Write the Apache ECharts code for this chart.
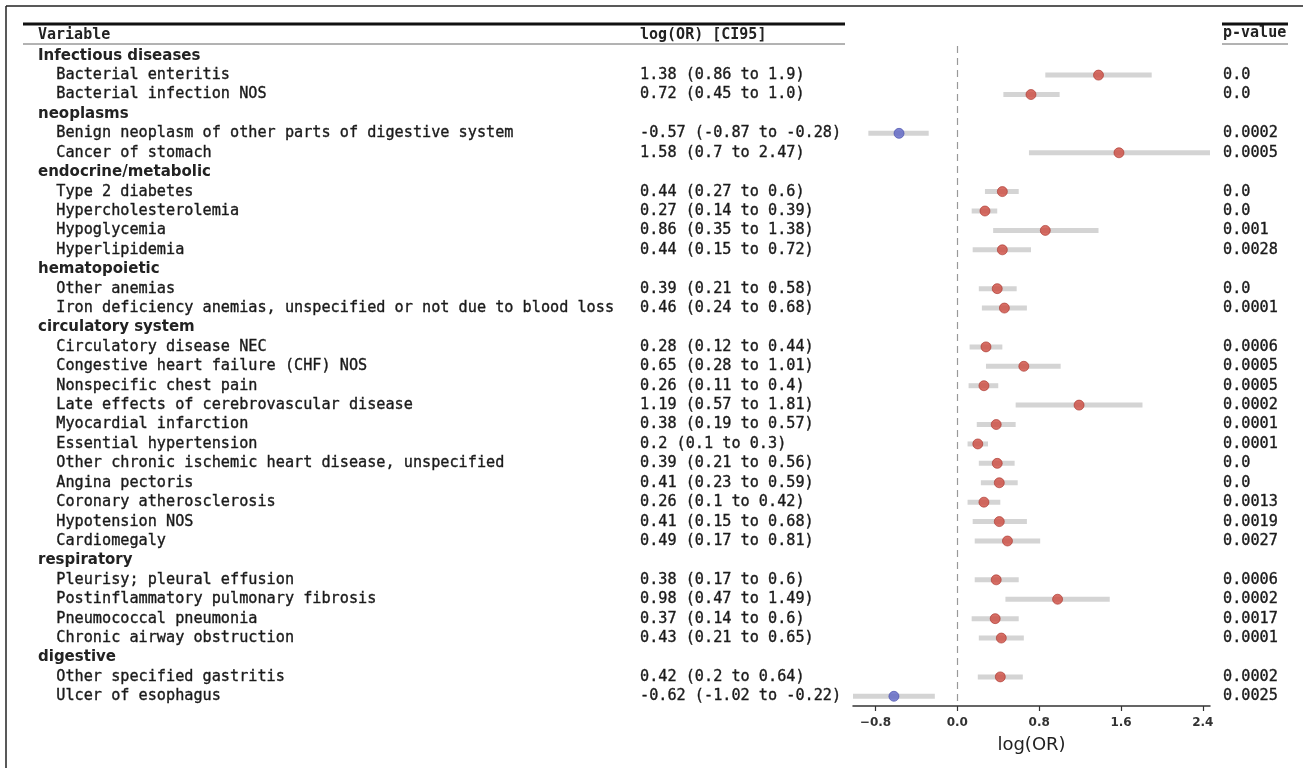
<!DOCTYPE html>
<html>
<head>
<meta charset="utf-8">
<script src="https://cdn.jsdelivr.net/npm/echarts@6/dist/echarts.min.js"></script>
<style>
  html, body { margin: 0; padding: 0; background: #fff; }
  #chart { width: 1303px; height: 768px; }
</style>
</head>
<body>
<div id="chart"></div>
<script>
// rows top to bottom; group rows carry no estimate
const labels = [
  'Infectious diseases', 'Bacterial enteritis', 'Bacterial infection NOS',
  'neoplasms', 'Benign neoplasm of other parts of digestive system', 'Cancer of stomach',
  'endocrine/metabolic', 'Type 2 diabetes', 'Hypercholesterolemia', 'Hypoglycemia', 'Hyperlipidemia',
  'hematopoietic', 'Other anemias', 'Iron deficiency anemias, unspecified or not due to blood loss',
  'circulatory system', 'Circulatory disease NEC', 'Congestive heart failure (CHF) NOS',
  'Nonspecific chest pain', 'Late effects of cerebrovascular disease', 'Myocardial infarction',
  'Essential hypertension', 'Other chronic ischemic heart disease, unspecified', 'Angina pectoris',
  'Coronary atherosclerosis', 'Hypotension NOS', 'Cardiomegaly',
  'respiratory', 'Pleurisy; pleural effusion', 'Postinflammatory pulmonary fibrosis',
  'Pneumococcal pneumonia', 'Chronic airway obstruction',
  'digestive', 'Other specified gastritis', 'Ulcer of esophagus'
];
const isGroup = [
  true, false, false,
  true, false, false,
  true, false, false, false, false,
  true, false, false,
  true, false, false, false, false, false, false, false, false, false, false, false,
  true, false, false, false, false,
  true, false, false
];
const estimate = [
  null, 1.38, 0.72,
  null, -0.57, 1.58,
  null, 0.44, 0.27, 0.86, 0.44,
  null, 0.39, 0.46,
  null, 0.28, 0.65, 0.26, 1.19, 0.38, 0.2, 0.39, 0.41, 0.26, 0.41, 0.49,
  null, 0.38, 0.98, 0.37, 0.43,
  null, 0.42, -0.62
];
const ciLow = [
  null, 0.86, 0.45,
  null, -0.87, 0.7,
  null, 0.27, 0.14, 0.35, 0.15,
  null, 0.21, 0.24,
  null, 0.12, 0.28, 0.11, 0.57, 0.19, 0.1, 0.21, 0.23, 0.1, 0.15, 0.17,
  null, 0.17, 0.47, 0.14, 0.21,
  null, 0.2, -1.02
];
const ciHigh = [
  null, 1.9, 1.0,
  null, -0.28, 2.47,
  null, 0.6, 0.39, 1.38, 0.72,
  null, 0.58, 0.68,
  null, 0.44, 1.01, 0.4, 1.81, 0.57, 0.3, 0.56, 0.59, 0.42, 0.68, 0.81,
  null, 0.6, 1.49, 0.6, 0.65,
  null, 0.64, -0.22
];
const pValues = [
  null, 0.0, 0.0,
  null, 0.0002, 0.0005,
  null, 0.0, 0.0, 0.001, 0.0028,
  null, 0.0, 0.0001,
  null, 0.0006, 0.0005, 0.0005, 0.0002, 0.0001, 0.0001, 0.0, 0.0, 0.0013, 0.0019, 0.0027,
  null, 0.0006, 0.0002, 0.0017, 0.0001,
  null, 0.0002, 0.0025
];
const xTicks = [-0.8, 0.0, 0.8, 1.6, 2.4];

const MONO = '"DejaVu Sans Mono", "Liberation Mono", monospace';
const SANS = '"DejaVu Sans", "Liberation Sans", sans-serif';

// python-ish number printing: 1.0 stays "1.0"
function fmt(v) {
  return Number.isInteger(v) ? v.toFixed(1) : String(v);
}

const chart = echarts.init(document.getElementById('chart'));

const ciData = [];
const pointData = [];
estimate.forEach((v, i) => {
  if (v === null) return;
  ciData.push([ciLow[i], ciHigh[i], i]);
  pointData.push({
    value: [v, i],
    itemStyle: v < 0
      ? { color: '#5c64c4', borderColor: '#454ca8', borderWidth: 0.8 }
      : { color: '#cd4a3f', borderColor: '#a8362d', borderWidth: 0.8 }
  });
});

const rowText = { fontFamily: MONO, fontSize: 15.2, color: '#1a1a1a', textBorderColor: '#1a1a1a', textBorderWidth: 0.35 };

const option = {
  animation: false,
  backgroundColor: '#fff',
  textStyle: { fontFamily: MONO },
  grid: { left: 853, right: 93, top: 46, bottom: 62, containLabel: false, outerBoundsMode: 'none' },
  xAxis: {
    type: 'value',
    min: -1.02,
    max: 2.47,
    name: 'log(OR)',
    nameLocation: 'middle',
    nameGap: 30,
    nameTextStyle: { fontFamily: SANS, fontSize: 18, color: '#222' },
    axisLine: { show: true, lineStyle: { color: '#333', width: 1.5 } },
    axisTick: { show: true, length: 5, lineStyle: { color: '#333', width: 1.2 }, customValues: xTicks },
    axisLabel: {
      customValues: xTicks,
      margin: 11,
      fontFamily: SANS,
      fontSize: 12,
      fontWeight: 'bold',
      color: '#333',
      formatter: v => (v < 0 ? '\u2212' : '') + Math.abs(v).toFixed(1)
    },
    splitLine: { show: false }
  },
  yAxis: [
    {
      type: 'category',
      data: labels,
      inverse: true,
      axisLine: { show: false },
      axisTick: { show: false },
      splitLine: { show: false },
      axisLabel: {
        interval: 0,
        align: 'left',
        margin: 815,
        formatter: (val, i) => isGroup[i]
          ? '{g|' + val + '}'
          : '{n|  ' + val + '}{c|' + fmt(estimate[i]) + ' (' + fmt(ciLow[i]) + ' to ' + fmt(ciHigh[i]) + ')}',
        rich: {
          g: { fontFamily: SANS, fontWeight: 'bold', fontSize: 15, color: '#222' },
          n: Object.assign({ width: 602 }, rowText),
          c: rowText
        }
      }
    },
    {
      type: 'category',
      data: labels,
      inverse: true,
      position: 'right',
      axisLine: { show: false },
      axisTick: { show: false },
      splitLine: { show: false },
      axisLabel: Object.assign({
        interval: 0,
        align: 'left',
        margin: 13,
        formatter: (val, i) => pValues[i] === null ? '' : fmt(pValues[i])
      }, rowText)
    }
  ],
  series: [
    {
      type: 'custom',
      yAxisIndex: 0,
      data: ciData,
      encode: { x: [0, 1], y: 2 },
      renderItem: (params, api) => {
        const a = api.coord([api.value(0), api.value(2)]);
        const b = api.coord([api.value(1), api.value(2)]);
        return {
          type: 'line',
          shape: { x1: a[0], y1: a[1], x2: b[0], y2: b[1] },
          style: { stroke: '#d4d4d4', lineWidth: 5 }
        };
      },
      z: 2
    },
    {
      type: 'scatter',
      yAxisIndex: 0,
      data: pointData,
      symbolSize: 10,
      markLine: {
        silent: true,
        symbol: 'none',
        label: { show: false },
        lineStyle: { color: '#999', type: [7, 5], width: 1.2 },
        data: [{ xAxis: 0 }]
      },
      z: 3
    }
  ],
  graphic: [
    // page frame
    { type: 'line', shape: { x1: 6, y1: 6, x2: 1303, y2: 6 }, style: { stroke: '#222', lineWidth: 1.5 } },
    { type: 'line', shape: { x1: 6, y1: 6, x2: 6, y2: 768 }, style: { stroke: '#222', lineWidth: 1.5 } },
    // table rules
    { type: 'line', shape: { x1: 23, y1: 24, x2: 845, y2: 24 }, style: { stroke: '#111', lineWidth: 3 } },
    { type: 'line', shape: { x1: 23, y1: 44, x2: 845, y2: 44 }, style: { stroke: '#666', lineWidth: 1 } },
    { type: 'line', shape: { x1: 1222, y1: 24, x2: 1288, y2: 24 }, style: { stroke: '#111', lineWidth: 3 } },
    { type: 'line', shape: { x1: 1222, y1: 44, x2: 1288, y2: 44 }, style: { stroke: '#666', lineWidth: 1 } },
    // column headers
    { type: 'text', left: 38, top: 28, style: { text: 'Variable', font: 'bold 15px ' + MONO, fill: '#222' } },
    { type: 'text', left: 640, top: 28, style: { text: 'log(OR) [CI95]', font: 'bold 15px ' + MONO, fill: '#222' } },
    { type: 'text', left: 1223, top: 26, style: { text: 'p-value', font: 'bold 15px ' + MONO, fill: '#222' } }
  ]
};

chart.setOption(option);
</script>
</body>
</html>
